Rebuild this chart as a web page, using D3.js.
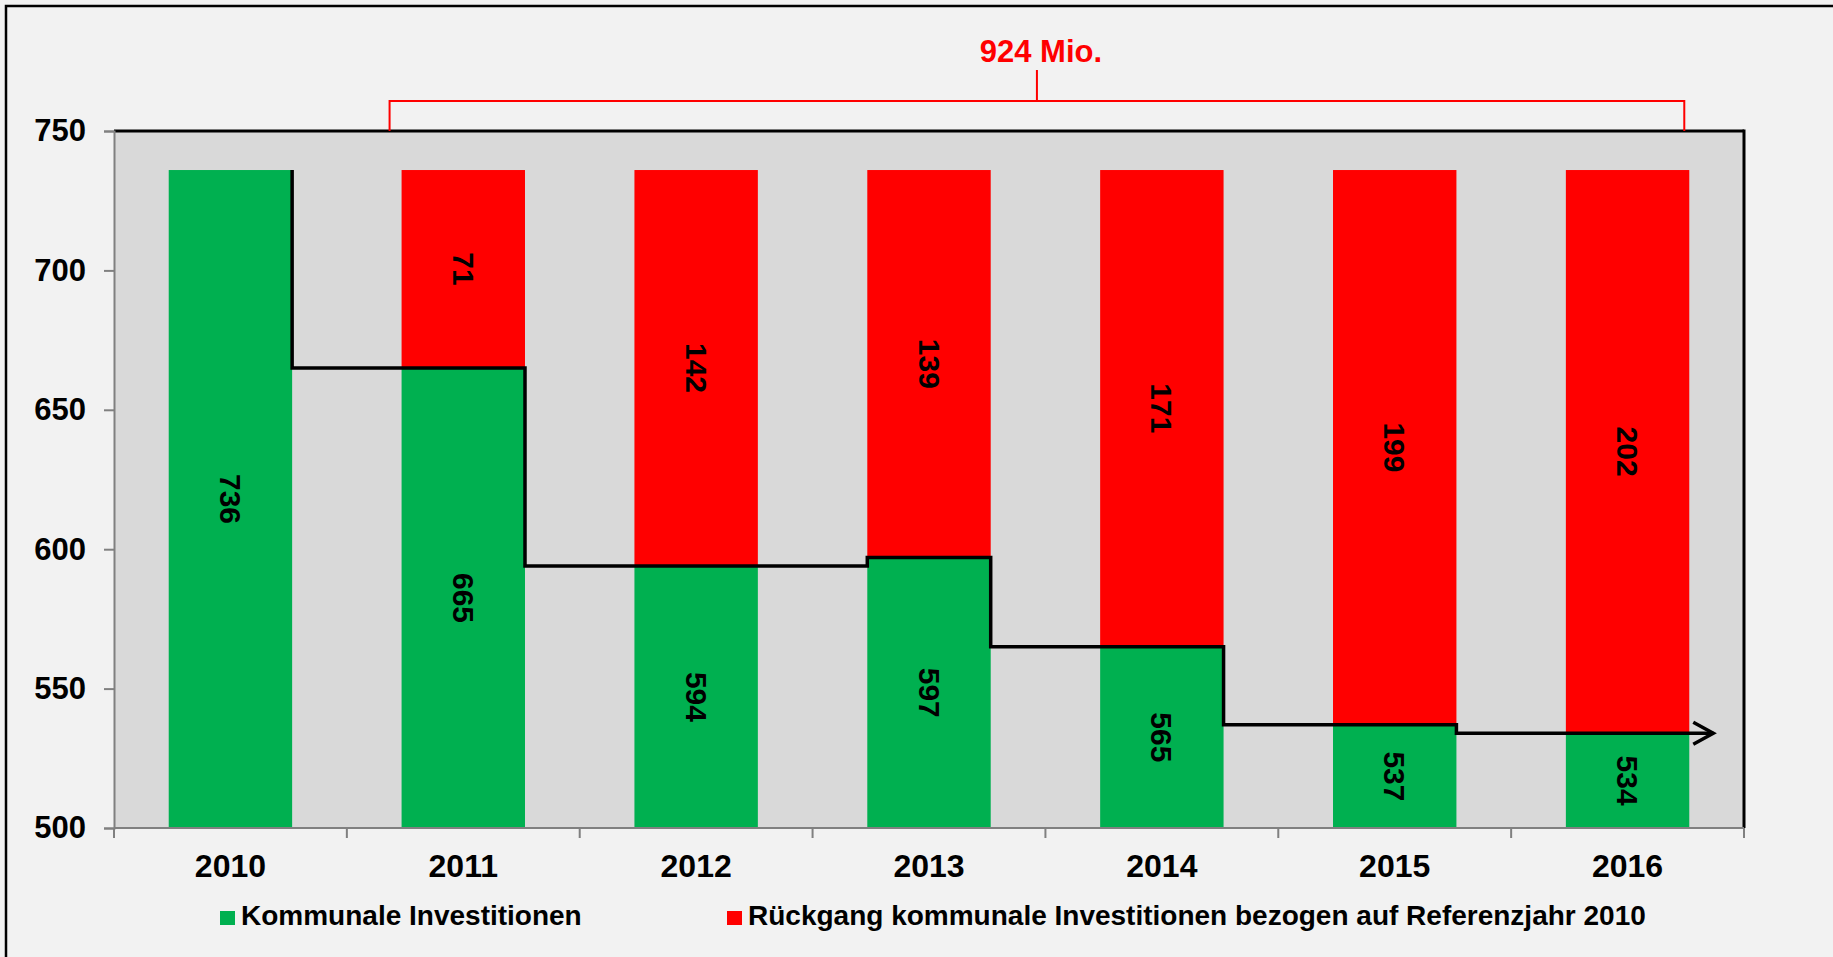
<!DOCTYPE html>
<html>
<head>
<meta charset="utf-8">
<script src="https://cdn.jsdelivr.net/npm/d3@7"></script>
<style>
    body { margin: 0; background: #f2f2f2; overflow: hidden; }
    text { font-family: "Liberation Sans", Arial, sans-serif; font-weight: bold; }
</style>
</head>
<body>
<div id="chart"></div>
<script>
var years = ['2010', '2011', '2012', '2013', '2014', '2015', '2016'];
var invest = [736, 665, 594, 597, 565, 537, 534];
var decline = [0, 71, 142, 139, 171, 199, 202];
var yTicks = [500, 550, 600, 650, 700, 750];
var legendLabels = ['Kommunale Investitionen', 'Rückgang kommunale Investitionen bezogen auf Referenzjahr 2010'];

var colors = ['#00b050', '#ff0000'];
var width = 1833, height = 957;
var plot = { left: 114, right: 1744, top: 131, bottom: 828 };

var svg = d3.select('#chart').append('svg')
    .attr('width', width)
    .attr('height', height)
    .style('display', 'block');

svg.append('rect')
    .attr('width', width).attr('height', height)
    .attr('fill', '#f2f2f2');

// outer frame, runs off the right and bottom edges
svg.append('rect')
    .attr('x', 6).attr('y', 6)
    .attr('width', width + 50).attr('height', height + 50)
    .attr('fill', 'none')
    .attr('stroke', '#000')
    .attr('stroke-width', 2.5);

var x = d3.scaleBand()
    .domain(years)
    .range([plot.left, plot.right])
    .paddingInner(0.47)
    .paddingOuter(0.235);

var y = d3.scaleLinear()
    .domain([500, 750])
    .range([plot.bottom, plot.top]);

svg.append('rect')
    .attr('x', plot.left).attr('y', plot.top)
    .attr('width', plot.right - plot.left)
    .attr('height', plot.bottom - plot.top)
    .attr('fill', '#d9d9d9');

var data = years.map(function (d, i) {
    return { year: d, invest: invest[i], decline: decline[i] };
});

// green bars
svg.selectAll('.bar-invest')
    .data(data)
    .enter().append('rect')
    .attr('class', 'bar-invest')
    .attr('x', function (d) { return x(d.year); })
    .attr('y', function (d) { return y(d.invest); })
    .attr('width', x.bandwidth())
    .attr('height', function (d) { return y(500) - y(d.invest); })
    .attr('fill', colors[0]);

// red bars stacked on top
svg.selectAll('.bar-decline')
    .data(data.filter(function (d) { return d.decline > 0; }))
    .enter().append('rect')
    .attr('class', 'bar-decline')
    .attr('x', function (d) { return x(d.year); })
    .attr('y', function (d) { return y(d.invest + d.decline); })
    .attr('width', x.bandwidth())
    .attr('height', function (d) { return y(d.invest) - y(d.invest + d.decline); })
    .attr('fill', colors[1]);

// plot borders
var axisColor = '#808080';
svg.append('line')
    .attr('x1', plot.left).attr('x2', plot.right)
    .attr('y1', plot.top).attr('y2', plot.top)
    .attr('stroke', '#000').attr('stroke-width', 3);
svg.append('line')
    .attr('x1', plot.right).attr('x2', plot.right)
    .attr('y1', plot.top - 1.5).attr('y2', plot.bottom)
    .attr('stroke', '#000').attr('stroke-width', 3);

// y axis
var yAxis = d3.axisLeft(y).tickValues(yTicks).tickSize(10).tickPadding(18);
var gy = svg.append('g')
    .attr('transform', 'translate(' + plot.left + ',0)')
    .call(yAxis);
gy.select('.domain').attr('stroke', axisColor).attr('stroke-width', 2);
gy.selectAll('.tick line').attr('stroke', axisColor).attr('stroke-width', 2);
gy.selectAll('.tick text')
    .attr('fill', '#000')
    .style('font-size', '31px')
    .style('font-family', '"Liberation Sans", Arial, sans-serif')
    .style('font-weight', 'bold');

// x axis: ticks at category boundaries
svg.append('line')
    .attr('x1', plot.left).attr('x2', plot.right)
    .attr('y1', plot.bottom).attr('y2', plot.bottom)
    .attr('stroke', axisColor).attr('stroke-width', 2);
var bounds = d3.range(years.length + 1).map(function (i) {
    return plot.left + x.step() * i;
});
svg.selectAll('.xtick')
    .data(bounds)
    .enter().append('line')
    .attr('x1', function (d) { return d; })
    .attr('x2', function (d) { return d; })
    .attr('y1', plot.bottom).attr('y2', plot.bottom + 10)
    .attr('stroke', axisColor).attr('stroke-width', 2);
svg.selectAll('.xlabel')
    .data(years)
    .enter().append('text')
    .attr('x', function (d) { return x(d) + x.bandwidth() / 2; })
    .attr('y', 877)
    .attr('text-anchor', 'middle')
    .style('font-size', '32px')
    .text(function (d) { return d; });

// value labels, rotated
function label(cls, items, val, mid) {
    svg.selectAll('.' + cls)
        .data(items)
        .enter().append('text')
        .attr('class', cls)
        .attr('transform', function (d) {
            return 'translate(' + (x(d.year) + x.bandwidth() / 2) + ',' + y(mid(d)) + ') rotate(90)';
        })
        .attr('text-anchor', 'middle')
        .attr('dominant-baseline', 'central')
        .style('font-size', '30px')
        .text(val);
}
label('lab-invest', data, function (d) { return d.invest; },
    function (d) { return (500 + d.invest) / 2; });
label('lab-decline', data.filter(function (d) { return d.decline > 0; }),
    function (d) { return d.decline; },
    function (d) { return d.invest + d.decline / 2; });

// step line following the green tops
var pts = [];
var right = function (i) { return x(years[i]) + x.bandwidth(); };
pts.push([right(0), y(invest[0]) + 3]);
for (var i = 0; i < years.length - 1; i++) {
    var tx = invest[i + 1] < invest[i] ? right(i) : x(years[i + 1]);
    pts.push([tx, y(invest[i])]);
    pts.push([tx, y(invest[i + 1])]);
}
var endX = right(years.length - 1) + 24;
var lastY = y(invest[years.length - 1]);
pts.push([endX, lastY]);

svg.append('path')
    .attr('d', d3.line()(pts))
    .attr('fill', 'none')
    .attr('stroke', '#000')
    .attr('stroke-width', 3.5);
svg.append('path')
    .attr('d', d3.line()([[endX - 20, lastY - 11], [endX, lastY], [endX - 20, lastY + 11]]))
    .attr('fill', 'none')
    .attr('stroke', '#000')
    .attr('stroke-width', 3.5);

// bracket with total decline
var total = d3.sum(decline);
var bx1 = x(years[1]) - 12, bx2 = right(years.length - 1) - 5, by = 101;
svg.append('path')
    .attr('d', d3.line()([[bx1, plot.top], [bx1, by], [bx2, by], [bx2, plot.top]]))
    .attr('fill', 'none')
    .attr('stroke', colors[1])
    .attr('stroke-width', 2);
var bmid = (bx1 + bx2) / 2;
svg.append('line')
    .attr('x1', bmid).attr('x2', bmid)
    .attr('y1', by).attr('y2', 70)
    .attr('stroke', colors[1]).attr('stroke-width', 2);
svg.append('text')
    .attr('x', bmid + 4)
    .attr('y', 62)
    .attr('text-anchor', 'middle')
    .attr('fill', colors[1])
    .style('font-size', '31px')
    .text(total + ' Mio.');

// legend
var legendX = [220, 727];
var lg = svg.selectAll('.legend')
    .data(legendLabels)
    .enter().append('g')
    .attr('transform', function (d, i) { return 'translate(' + legendX[i] + ',911)'; });
lg.append('rect')
    .attr('width', 15).attr('height', 14)
    .attr('fill', function (d, i) { return colors[i]; });
lg.append('text')
    .attr('x', 21).attr('y', 14)
    .style('font-size', '28px')
    .text(function (d) { return d; });
</script>
</body>
</html>
